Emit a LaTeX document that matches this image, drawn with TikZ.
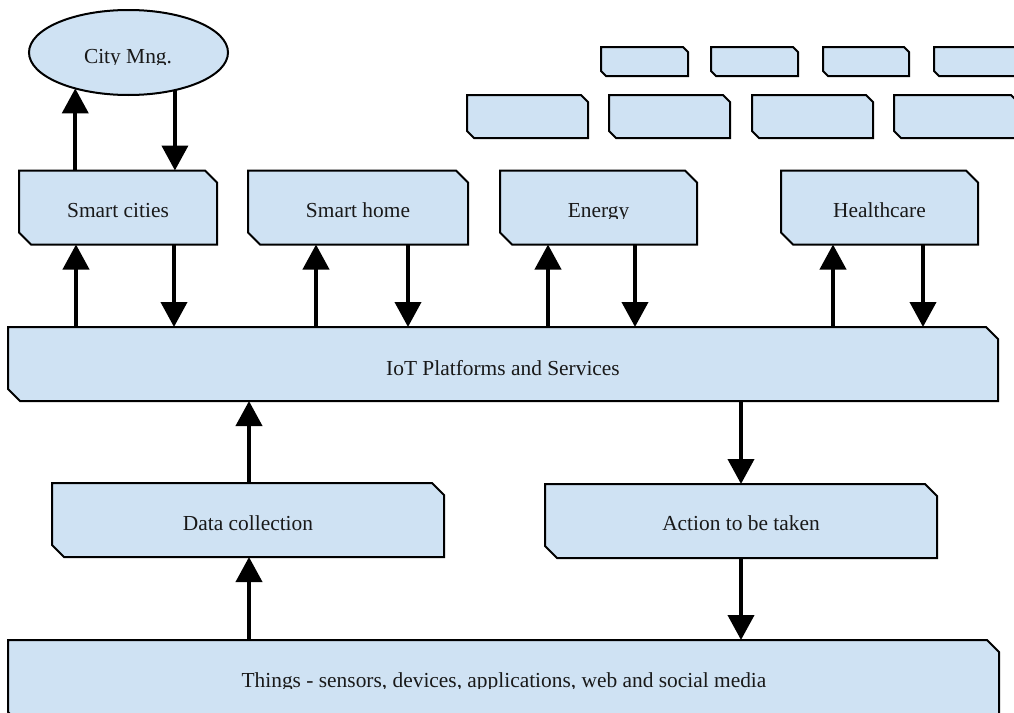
\documentclass[tikz,border=0pt]{standalone}
\usepackage{fontspec}
\setmainfont{Liberation Serif}
\usetikzlibrary{arrows.meta,shapes.geometric}
\definecolor{boxblue}{HTML}{CFE2F3}
\tikzset{
  boxst/.style={draw=black, line width=2pt, fill=boxblue, line join=miter},
  area/.style={rectangle, inner sep=0pt, outer sep=0pt},
  txt/.style={inner sep=0pt, font=\fontsize{21.4}{25}\selectfont, text=black!90},
  arr/.style={line width=4pt, -{Triangle[width=26pt,length=25pt]}},
}
% name, x1, y1, x2, y2, chamfer (image pixel coordinates, y downward)
\newcommand\chambox[6]{%
  \draw[boxst] (#2,#3) -- ({#4-#6},#3) -- (#4,{#3+#6}) -- (#4,#5) -- ({#2+#6},#5) -- (#2,{#5-#6}) -- cycle;
  \node[area, minimum width={#4-#2}, minimum height={#5-#3}] (#1) at ({(#2+#4)/2},{(#3+#5)/2}) {};
}
% name, x, baseline, text (clipped just below the baseline, as in the original)
\newcommand\basetext[4]{%
  \begin{scope}
    \clip (0,0) rectangle (1014,{#3+1.5});
    \node[txt, anchor=base] (#1) at (#2,#3) {#4};
  \end{scope}
}
\begin{document}
\begin{tikzpicture}[x=1pt,y=-1pt]
\useasboundingbox (0,0) rectangle (1014,712);
\clip (0,0) rectangle (1014,712);

% ellipse
\node[ellipse, draw=black, line width=2pt, fill=boxblue, minimum width=199pt, minimum height=85pt, inner sep=0pt, outer sep=0pt] (city) at (128.5,52.5) {};
\basetext{cityt}{128}{63}{City Mng.}

% decorative tiles, top right
\chambox{ra}{601}{47}{688}{76}{5}
\chambox{rb}{711}{47}{798}{76}{5}
\chambox{rc}{823}{47}{909}{76}{5}
\chambox{rd}{934}{47}{1040}{76}{5}
\chambox{sa}{467}{95}{588}{138}{7}
\chambox{sb}{609}{95}{730}{138}{7}
\chambox{sc2}{752}{95}{873}{138}{7}
\chambox{sd}{894}{95}{1018}{138}{7}

% application boxes
\chambox{sc}{19}{170.5}{217}{244.5}{12}
\basetext{sct}{118}{217}{Smart cities}
\chambox{sh}{248}{170.5}{468}{244.5}{12}
\basetext{sht}{358}{217}{Smart home}
\chambox{en}{500}{170.5}{697}{244.5}{12}
\basetext{ent}{598.5}{217}{Energy}
\chambox{hc}{781}{170.5}{978}{244.5}{12}
\basetext{hct}{879.5}{217}{Healthcare}

% platform
\chambox{iot}{8}{327}{998}{401}{12}
\basetext{iott}{503}{375.5}{IoT Platforms and Services}

% middle
\chambox{dc}{52}{483}{444}{557}{12}
\basetext{dct}{248}{530}{Data collection}
\chambox{ac}{545}{484}{937}{558}{12}
\basetext{act}{741}{530}{Action to be taken}

% things
\chambox{th}{8}{640}{999}{724}{12}
\basetext{tht}{504}{687}{Things - sensors, devices, applications, web and social media}

% x positions of connectors
\coordinate (xa) at (76,0);
\coordinate (xb) at (174,0);
\coordinate (xc) at (316,0);
\coordinate (xd) at (408,0);
\coordinate (xe) at (548,0);
\coordinate (xf) at (635,0);
\coordinate (xg) at (833,0);
\coordinate (xh) at (923,0);
\coordinate (xi) at (249,0);
\coordinate (xj) at (741,0);

% connectors
\draw[arr] (city.214.6 |- sc.north) -- (city.214.6);
\draw[arr] (city.321) -- (city.321 |- sc.north);
\draw[arr] (iot.north -| xa) -- (sc.south -| xa);
\draw[arr] (sc.south -| xb) -- (iot.north -| xb);
\draw[arr] (iot.north -| xc) -- (sh.south -| xc);
\draw[arr] (sh.south -| xd) -- (iot.north -| xd);
\draw[arr] (iot.north -| xe) -- (en.south -| xe);
\draw[arr] (en.south -| xf) -- (iot.north -| xf);
\draw[arr] (iot.north -| xg) -- (hc.south -| xg);
\draw[arr] (hc.south -| xh) -- (iot.north -| xh);
\draw[arr] (dc.north -| xi) -- (iot.south -| xi);
\draw[arr] (th.north -| xi) -- (dc.south -| xi);
\draw[arr] (iot.south -| xj) -- (ac.north -| xj);
\draw[arr] (ac.south -| xj) -- (th.north -| xj);
\end{tikzpicture}
\end{document}
